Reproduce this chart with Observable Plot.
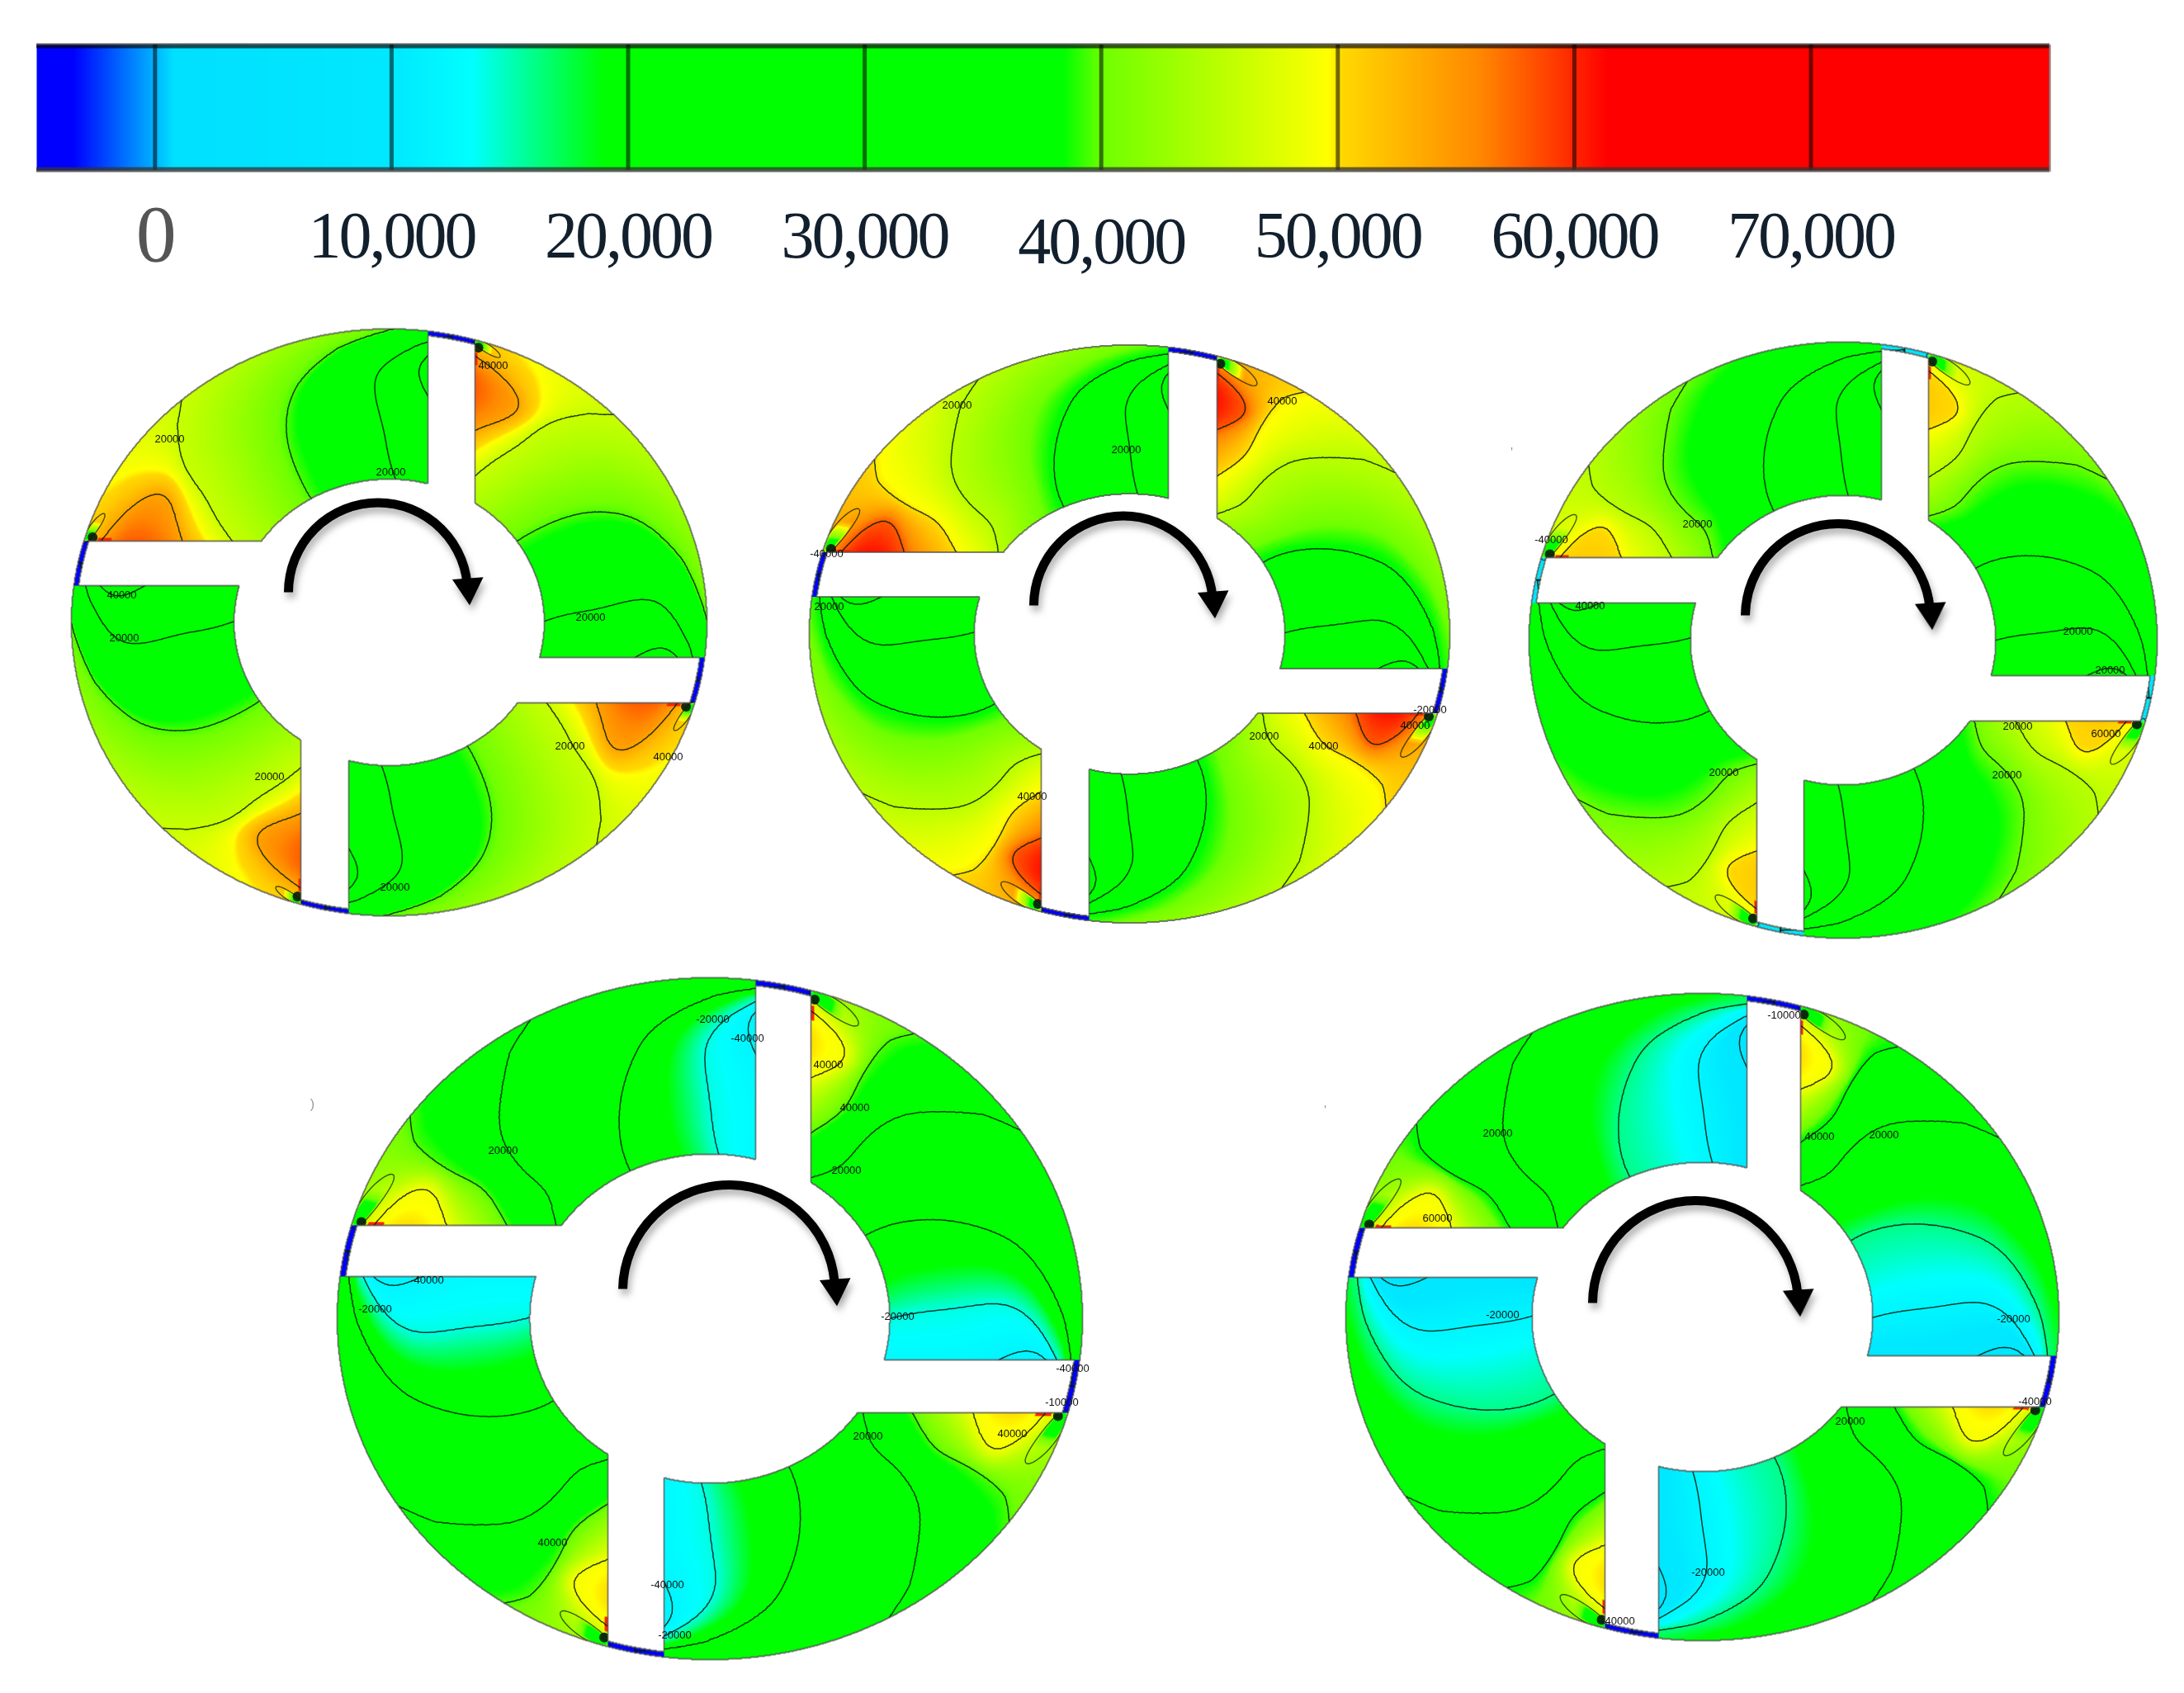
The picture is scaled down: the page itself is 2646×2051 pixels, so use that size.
<!DOCTYPE html>
<html>
<head>
<meta charset="utf-8">
<script src="https://cdn.jsdelivr.net/npm/d3@7"></script>
<script src="https://cdn.jsdelivr.net/npm/@observablehq/plot@0.6"></script>
<style>
  body { margin: 0; background: white; }
  svg { display: block; background: transparent; filter: blur(0.7px); }
  .arrow-shadow { filter: blur(4px); }
</style>
</head>
<body>
<div id="chart"></div>
<script>
// colour bar
const colorStops = [-5000, -3450, -200, 800, 10000, 13400, 19000, 38400, 40100, 49600, 50200, 56000, 59000, 61400, 80100];
const colorValues = ['#0000ff', '#0000ff', '#00a8ff', '#00e0ff', '#00e8ff', '#00ffff', '#00ff00', '#00ff00', '#70ff00', '#ffff00', '#ffd800', '#ff8800', '#ff4000', '#ff0000', '#ff0000'];
const tickValues = [0, 10000, 20000, 30000, 40000, 50000, 60000, 70000];

// the five discs, in picture pixels
const discCx = [471, 1368, 2232.5, 859.5, 2062];
const discCy = [753.5, 767.5, 775, 1597, 1595];
const discRx = [385, 388, 380.5, 451.5, 432];
const discRy = [355.5, 350, 361, 413, 392];
const hubRatio = [0.488, 0.485, 0.486, 0.483, 0.478];
// blade edges, offset from the disc centre
const topBlade = [[47, 104], [47, 106], [46, 104], [56, 123], [54, 119]];
const rightBlade = [[43, 98], [42, 96], [43, 98], [50, 114], [47, 109]];
const bottomBlade = [[-107, -49], [-107, -49], [-105, -47], [-124, -55], [-118, -53]];
const leftBlade = [[-99, -44], [-99, -45], [-100, -45], [-113, -51], [-108, -48]];
const tipValue = [-4000, -4000, 9000, -4000, -4000];
const leafSize = [0.6, 1, 1, 1, 1];

// contour lines read off one sector: position along the sector (0 = blade behind, 1 = next blade)
// for each step from hub to rim
const radialSteps = [0, 0.15, 0.3, 0.45, 0.6, 0.75, 0.9, 1];
const linesFirstDisc = [
  [-0.15, -0.12, -0.07, 0.01, 0.1, 0.125, 0, -0.15],
  [-0.08, 0, 0.06, 0.125, 0.165, 0.21, 0.28, 0.33],
  [0.22, 0.29, 0.35, 0.41, 0.48, 0.565, 0.72, 0.9],
  [0.69, 0.72, 0.757, 0.768, 0.78, 0.82, 0.975, 1.08],
  [1.15, 1.15, 1.12, 1.06, 0.98, 0.95, 1.03, 1.15]
];
const linesOtherDiscs = [
  [-0.14, -0.14, -0.12, -0.05, 0.045, 0.09, 0, -0.14],
  [-0.1, -0.05, 0.03, 0.09, 0.105, 0.125, 0.15, 0.195],
  [-0.02, 0.1, 0.135, 0.175, 0.225, 0.31, 0.39, 0.47],
  [0.26, 0.34, 0.425, 0.51, 0.6, 0.69, 0.89, 1.1],
  [0.69, 0.735, 0.775, 0.795, 0.815, 0.885, 1.02, 1.12],
  [1.15, 1.15, 1.12, 1.06, 0.985, 0.96, 1.03, 1.15]
];
// value on each contour line, on the colour bar's scale
const lineLevels = [
  [54000, 46000, 39500, 30000, 24000],
  [58000, 50000, 45000, 38000, 29000, 23000],
  [50000, 45000, 40000, 33000, 27000, 22000],
  [49000, 39500, 32000, 24000, 14000, 12000],
  [49000, 38000, 26000, 16000, 12000, 8000]
];
const peakLevel = [64000, 68000, 54000, 53000, 53000];
const endLevel = [20000, 20000, 19500, 11000, 5000];

// curved arrows: shaft start and end, then the middle of the head
const arrowX1 = [349, 1252, 2114, 754, 1929];
const arrowY1 = [717, 733, 745, 1561, 1578];
const arrowX2 = [566, 1469, 2338, 1011, 2178];
const arrowY2 = [717, 733, 747, 1566, 1579];
const headX = [567, 1470, 2339, 1012, 2179];
const headY = [711, 727, 741, 1560, 1573];

// small contour labels
const labelX = [205, 473, 147, 150, 715, 326, 690, 809, 478, 597,
  1159, 1364, 1553, 1004, 1531, 1603, 1250, 1714, 1732, 1001,
  2056, 2088, 2431, 2444, 2556, 2517, 1926, 2551, 1879,
  863, 905, 1003, 1035, 1025, 609, 517, 454, 1087, 1299, 1286, 1051, 1226, 669, 808, 817,
  1814, 2204, 2282, 1741, 1820, 2439, 2241, 2069, 2465, 1960, 2161];
const labelY = [531, 571, 720, 772, 747, 940, 903, 916, 1074, 442,
  490, 544, 485, 734, 891, 903, 964, 878, 859, 670,
  634, 935, 938, 879, 811, 764, 733, 888, 653,
  1234, 1257, 1289, 1341, 1417, 1393, 1550, 1585, 1594, 1657, 1698, 1739, 1736, 1868, 1919, 1980,
  1372, 1376, 1374, 1475, 1592, 1597, 1721, 1904, 1697, 1963, 1229];
const labelText = ['20000', '20000', '40000', '20000', '20000', '20000', '20000', '40000', '20000', '40000',
  '20000', '20000', '40000', '20000', '20000', '40000', '40000', '40000', '-20000', '-40000',
  '20000', '20000', '20000', '20000', '20000', '20000', '40000', '60000', '-40000',
  '-20000', '-40000', '40000', '40000', '20000', '20000', '-40000', '-20000', '-20000', '-40000', '-10000', '20000', '40000', '40000', '-40000', '-20000',
  '20000', '40000', '20000', '60000', '-20000', '-20000', '20000', '-20000', '-40000', '-40000', '-10000'];

// stray specks left in the picture
const speckX = [1831, 378, 1605];
const speckY = [548, 1337, 1345];
const speckText = ["'", ')', "'"];

const colorScale = { type: 'linear', domain: colorStops, range: colorValues, interpolate: 'rgb', clamp: true };

// smooth each contour line along the radius
const lutSize = 256;
const buildLut = (lines) => lines.map((row) => {
  const f = d3.interpolateBasis(row);
  return Float64Array.from({ length: lutSize + 1 }, (_, i) => f(i / lutSize));
});
const lutFirst = buildLut(linesFirstDisc);
const lutOther = buildLut(linesOtherDiscs);

const lastStep = radialSteps.length - 1;
const radialIndex = (v) => {
  let j = 0;
  while (j < lastStep - 1 && v > radialSteps[j + 1]) j++;
  const t = (j + (v - radialSteps[j]) / (radialSteps[j + 1] - radialSteps[j])) / lastStep;
  return Math.round(Math.max(0, Math.min(1, t)) * lutSize);
};

function makeDisc(i) {
  const cx = discCx[i], cy = discCy[i], rx = discRx[i], ry = discRy[i], h = hubRatio[i];
  const [topL, topR] = topBlade[i];
  const [rightT, rightB] = rightBlade[i];
  const [botL, botR] = bottomBlade[i];
  const [leftT, leftB] = leftBlade[i];
  const topMid = (topL + topR) / 2, rightMid = (rightT + rightB) / 2;
  const botMid = (botL + botR) / 2, leftMid = (leftT + leftB) / 2;
  const lut = i === 0 ? lutFirst : lutOther;
  const levels = lineLevels[i], hi = peakLevel[i], lo = endLevel[i];
  const tipRho = 0.985;

  const polar = (x, y) => {
    const dx = x - cx, dy = y - cy;
    const rho = Math.hypot(dx / rx, dy / ry);
    let a, b;
    if (dx > topMid && dy < rightMid) { a = rightT - dy; b = dx - topR; }
    else if (dy >= rightMid && dx > botMid) { a = dx - botR; b = dy - rightB; }
    else if (dx <= botMid && dy > leftMid) { a = dy - leftB; b = botL - dx; }
    else { a = topL - dx; b = leftT - dy; }
    return { dx, dy, rho, u: Math.atan2(b, a) / (Math.PI / 2), v: Math.max(0, Math.min(1, (rho - h) / (1 - h))) };
  };
  const valueAt = (u, v) => {
    const k = radialIndex(v);
    let prevU = -0.18, prevL = hi;
    if (u <= prevU) return hi;
    for (let j = 0; j < lut.length; j++) {
      const uj = lut[j][k];
      if (u <= uj) return uj <= prevU ? levels[j] : prevL + (levels[j] - prevL) * (u - prevU) / (uj - prevU);
      if (uj > prevU) prevU = uj;
      prevL = levels[j];
    }
    return u >= 1.2 ? lo : prevL + (lo - prevL) * (u - prevU) / (1.2 - prevU);
  };
  const inBlade = (dx, dy) => (dy < 0 && dx > topL && dx < topR) || (dx > 0 && dy > rightT && dy < rightB)
    || (dy > 0 && dx > botL && dx < botR) || (dx < 0 && dy > leftT && dy < leftB);
  const leafAt = (u, v) => {
    const du = (u - 0.042 * leafSize[i]) / (0.042 * leafSize[i]);
    const dv = (v - (1 - 0.055 * leafSize[i])) / (0.055 * leafSize[i]);
    const s = (du - dv) / 2, n = (du + dv) / 1.414 / 0.7;
    return 1 - s * s - n * n;
  };
  const field = (x, y) => {
    const p = polar(x, y);
    if (inBlade(p.dx, p.dy) && p.rho >= tipRho) return tipValue[i];
    const val = valueAt(p.u, p.v);
    // thin hot sliver against the blade, just below the rim
    if (p.u < 0.005 && p.v > 0.84 && p.v < 0.92) return 60000;
    const leaf = leafAt(p.u, p.v);
    if (leaf > 0) {
      const w = Math.min(1, leaf * 2) * Math.max(0, 1 - p.u / (0.06 * leafSize[i]));
      return val * (1 - w) + 28000 * w;
    }
    return val;
  };
  const inside = (x, y) => {
    const p = polar(x, y);
    if (p.rho > 1 || p.rho < h) return 0;
    return inBlade(p.dx, p.dy) && p.rho < tipRho ? 0 : 1;
  };
  const box = (pad) => ({ x1: cx - rx - pad, x2: cx + rx + pad, y1: cy - ry - pad, y2: cy + ry + pad });
  const contourLine = (value, thresholds, opts) => Plot.contour({ value, thresholds, ...box(3), pixelSize: 1.5, fill: 'none', ...opts });
  const rimX = (d) => rx * Math.sqrt(1 - (d / ry) ** 2) * 0.975;
  const rimY = (d) => ry * Math.sqrt(1 - (d / rx) ** 2) * 0.975;
  const tips = [
    [cx + topR + 4, cy - rimY(topR + 4)],
    [cx + rimX(rightB + 4), cy + rightB + 4],
    [cx + botL - 4, cy + rimY(botL - 4)],
    [cx - rimX(leftT - 4), cy + leftT - 4]
  ];
  return [
    Plot.raster({ fill: field, ...box(3), pixelSize: 1 }),
    contourLine((x, y) => { const p = polar(x, y); return valueAt(p.u, p.v); }, levels, { stroke: '#041a08', strokeWidth: 1.5, strokeOpacity: 0.85 }),
    contourLine((x, y) => { const p = polar(x, y); return leafAt(p.u, p.v); }, [0], { stroke: '#041a08', strokeWidth: 1.4, strokeOpacity: 0.7 }),
    Plot.dot(tips, { x: '0', y: '1', r: 6, fill: '#031a0c', fillOpacity: 0.9 }),
    Plot.contour({ value: (x, y) => 1 - inside(x, y), thresholds: [0.5], ...box(8), pixelSize: 1, fill: 'white' }),
    Plot.contour({ value: inside, thresholds: [0.5], ...box(8), pixelSize: 1, fill: 'none', stroke: '#4a4a4a', strokeWidth: 1.8, strokeOpacity: 0.7 })
  ];
}

const barPlot = Plot.plot({
  width: 2646,
  height: 340,
  marginTop: 0, marginRight: 0, marginBottom: 0, marginLeft: 0,
  x: { domain: [-5000, 80100], range: [44, 2483], axis: null },
  y: { domain: [0, 340], range: [0, 340], axis: null },
  color: colorScale,
  marks: [
    Plot.raster({ fill: (x) => x, x1: -5000, x2: 80100, y1: 54, y2: 206, pixelSize: 1 }),
    Plot.ruleX(tickValues, { y1: 54, y2: 206, stroke: '#000', strokeOpacity: 0.55, strokeWidth: 5 }),
    Plot.ruleY([55], { x1: -5000, x2: 80100, stroke: '#000', strokeOpacity: 0.65, strokeWidth: 6 }),
    Plot.ruleY([205], { x1: -5000, x2: 80100, stroke: '#333', strokeOpacity: 0.75, strokeWidth: 6 }),
    Plot.ruleX([80100], { y1: 54, y2: 208, stroke: '#777', strokeOpacity: 0.6, strokeWidth: 3 }),
    Plot.text(tickValues, {
      x: (d) => d,
      y: (d) => (d === 40000 ? 293 : d === 0 ? 284 : 286),
      text: (d) => d3.format(',')(d),
      fontFamily: 'Liberation Serif',
      fontSize: (d) => (d === 0 ? 98 : 80),
      fill: (d) => (d === 0 ? '#555' : '#12202e')
    })
  ]
});
d3.select(barPlot).selectAll('text').style('letter-spacing', '-3px');

const discPlot = Plot.plot({
  width: 2646,
  height: 1711,
  marginTop: 0, marginRight: 0, marginBottom: 0, marginLeft: 0,
  x: { domain: [0, 2646], range: [0, 2646], axis: null },
  y: { domain: [340, 2051], range: [0, 1711], axis: null },
  color: colorScale,
  marks: [
    ...discCx.flatMap((_, i) => makeDisc(i)),
    Plot.text(labelText, {
      x: (_, i) => labelX[i], y: (_, i) => labelY[i], text: (d) => d,
      fontFamily: 'Liberation Sans', fontSize: 13, fill: '#111'
    }),
    Plot.text(speckText, {
      x: (_, i) => speckX[i], y: (_, i) => speckY[i], text: (d) => d,
      fontFamily: 'Liberation Sans', fontSize: 16, fill: '#999'
    }),
    Plot.arrow(discCx, {
      x1: (_, i) => arrowX1[i], y1: (_, i) => arrowY1[i], x2: (_, i) => arrowX2[i], y2: (_, i) => arrowY2[i],
      dx: 3, dy: 7, bend: 90, stroke: '#777', strokeOpacity: 0.55, strokeWidth: 11, headLength: 0, strokeLinecap: 'butt',
      className: 'arrow-shadow'
    }),
    Plot.dot(discCx, {
      x: (_, i) => headX[i], y: (_, i) => headY[i], dx: 3, dy: 7, symbol: 'triangle', r: 14, rotate: 176,
      fill: '#777', fillOpacity: 0.55, className: 'arrow-shadow'
    }),
    Plot.arrow(discCx, {
      x1: (_, i) => arrowX1[i], y1: (_, i) => arrowY1[i], x2: (_, i) => arrowX2[i], y2: (_, i) => arrowY2[i],
      bend: 90, stroke: '#000', strokeWidth: 11, headLength: 0, strokeLinecap: 'butt'
    }),
    Plot.dot(discCx, {
      x: (_, i) => headX[i], y: (_, i) => headY[i], symbol: 'triangle', r: 14, rotate: 176, fill: '#000'
    })
  ]
});

d3.select('#chart').append(() => barPlot);
d3.select('#chart').append(() => discPlot);
</script>
</body>
</html>
